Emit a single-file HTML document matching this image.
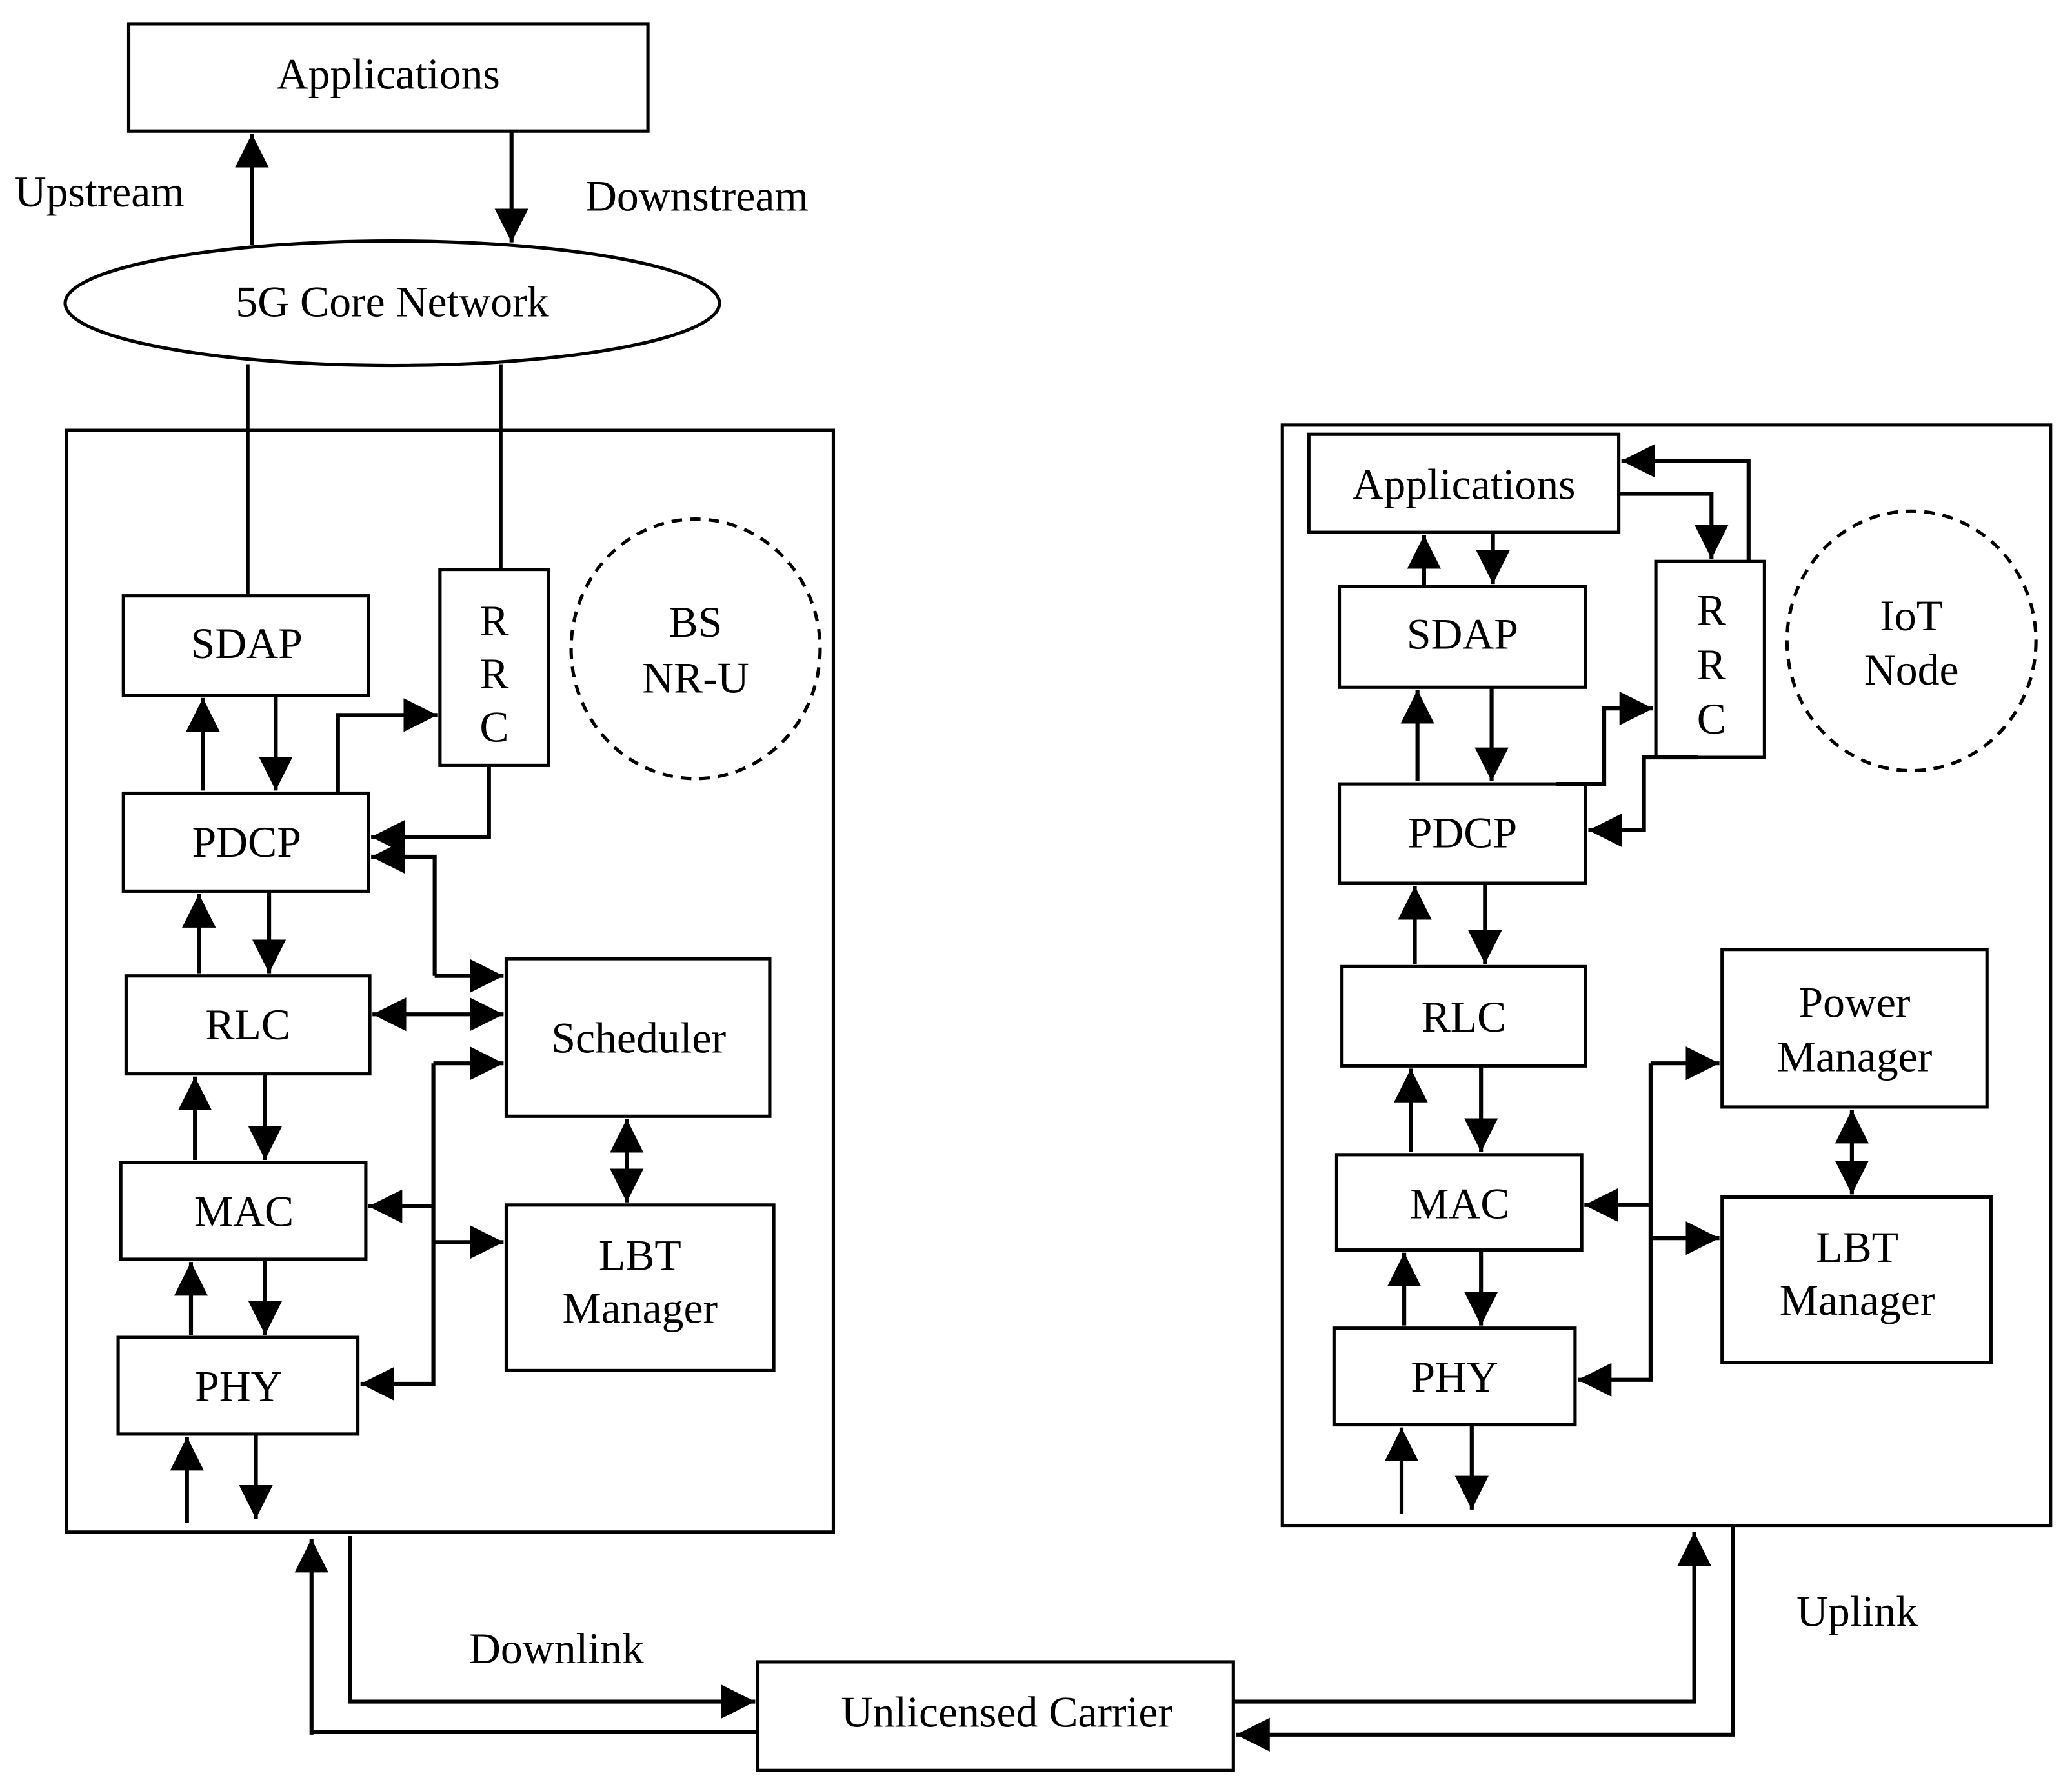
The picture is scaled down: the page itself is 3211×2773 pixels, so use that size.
<!DOCTYPE html>
<html><head><style>html,body{margin:0;padding:0;background:#fff}svg{display:block}</style></head>
<body>
<svg width="3211" height="2773" viewBox="0 0 1564 1351" xmlns="http://www.w3.org/2000/svg">
<defs>
<marker id="b" viewBox="0 0 10 10" refX="10" refY="5" markerWidth="8.5" markerHeight="8.5" orient="auto-start-reverse"><path d="M0,0 L10,5 L0,10 z" fill="#000"/></marker>
</defs>
<g fill="none" stroke="#000" stroke-width="2.5">
<rect x="97" y="18" width="392" height="81" fill="#fff"/>
<ellipse cx="296" cy="229" rx="247" ry="47"/>
<rect x="50" y="325" width="579" height="832"/>
<rect x="968" y="321" width="580" height="831"/>
<rect x="93" y="450" width="185" height="75"/>
<rect x="332" y="430" width="82" height="148"/>
<ellipse cx="525" cy="490" rx="94" ry="98" stroke-dasharray="8,6"/>
<rect x="93" y="599" width="185" height="74"/>
<rect x="95" y="737" width="184" height="74"/>
<rect x="91" y="878" width="185" height="73"/>
<rect x="89" y="1010" width="181" height="73"/>
<rect x="382" y="724" width="199" height="119"/>
<rect x="382" y="910" width="202" height="125"/>
<rect x="572" y="1255" width="359" height="82"/>
<rect x="988" y="328" width="234" height="74"/>
<rect x="1011" y="443" width="186" height="76"/>
<rect x="1250" y="424" width="82" height="148"/>
<ellipse cx="1443" cy="484" rx="94" ry="98" stroke-dasharray="8,6"/>
<rect x="1011" y="592" width="186" height="75"/>
<rect x="1013" y="730" width="184" height="75"/>
<rect x="1009" y="872" width="185" height="72"/>
<rect x="1007" y="1003" width="182" height="73"/>
<rect x="1300" y="717" width="200" height="119"/>
<rect x="1300" y="904" width="203" height="125"/>
</g>
<g fill="none" stroke="#000" stroke-width="3" marker-end="url(#b)">
<path d="M190 185 V101"/>
<path d="M386 99 V183"/>
<path d="M153 597 V527"/><path d="M208 525 V597"/>
<path d="M255 599 V540 H330"/>
<path d="M369 578 V632 H280"/>
<path d="M328 737 V647 H280"/>
<path d="M328 737 H380"/>
<path d="M281 766 H380" marker-start="url(#b)"/>
<path d="M473 845 V908" marker-start="url(#b)"/>
<path d="M327 803 H380"/>
<path d="M327 803 V1045 H272"/>
<path d="M327 911 H278"/>
<path d="M327 938 H380"/>
<path d="M150 735 V675"/><path d="M203 673 V735"/>
<path d="M147 876 V813"/><path d="M200 811 V876"/>
<path d="M144 1008 V953"/><path d="M200 951 V1008"/>
<path d="M141 1150 V1085"/><path d="M193 1083 V1147"/>
<path d="M235 1310 V1162"/>
<path d="M264 1160 V1285 H570"/>
<path d="M931 1285 H1279 V1157"/>
<path d="M1308 1153 V1310 H933"/>
<path d="M1075 443 V404"/><path d="M1127 402 V441"/>
<path d="M1222 373 H1292 V422"/>
<path d="M1320 424 V348 H1224"/>
<path d="M1070 590 V521"/><path d="M1126 519 V590"/>
<path d="M1175 592 H1211 V535 H1248"/>
<path d="M1282 572 H1241 V627 H1199"/>
<path d="M1068 728 V669"/><path d="M1121 667 V728"/>
<path d="M1065 870 V807"/><path d="M1118 805 V870"/>
<path d="M1060 1001 V946"/><path d="M1118 944 V1001"/>
<path d="M1058 1143 V1078"/><path d="M1111 1076 V1140"/>
<path d="M1398 838 V902" marker-start="url(#b)"/>
<path d="M1246 803 H1298"/>
<path d="M1246 803 V1042 H1191"/>
<path d="M1246 910 H1196"/>
<path d="M1246 935 H1298"/>
</g>
<path d="M235 1308 H572" stroke="#000" stroke-width="3" fill="none"/>
<path d="M187 275 V450 M378 275 V430" stroke="#000" stroke-width="2.5" fill="none"/>
<g font-family="'Liberation Serif',serif" font-size="33" fill="#000" text-anchor="middle" dominant-baseline="central">
<text x="293" y="56">Applications</text>
<text x="75" y="145">Upstream</text>
<text x="526" y="148">Downstream</text>
<text x="296" y="228">5G Core Network</text>
<text x="186" y="486">SDAP</text>
<text x="373" y="469">R</text><text x="373" y="509">R</text><text x="373" y="549">C</text>
<text x="525" y="470">BS</text><text x="525" y="512">NR-U</text>
<text x="186" y="636">PDCP</text>
<text x="187" y="774">RLC</text>
<text x="184" y="915">MAC</text>
<text x="180" y="1047">PHY</text>
<text x="482" y="784">Scheduler</text>
<text x="483" y="948">LBT</text><text x="483" y="988">Manager</text>
<text x="420" y="1245">Downlink</text>
<text x="760" y="1293">Unlicensed Carrier</text>
<text x="1402" y="1217">Uplink</text>
<text x="1105" y="366">Applications</text>
<text x="1104" y="479">SDAP</text>
<text x="1292" y="461">R</text><text x="1292" y="502">R</text><text x="1292" y="543">C</text>
<text x="1443" y="465">IoT</text><text x="1443" y="506">Node</text>
<text x="1104" y="629">PDCP</text>
<text x="1105" y="768">RLC</text>
<text x="1102" y="909">MAC</text>
<text x="1098" y="1040">PHY</text>
<text x="1400" y="757">Power</text><text x="1400" y="798">Manager</text>
<text x="1402" y="942">LBT</text><text x="1402" y="982">Manager</text>
</g>
</svg>
</body></html>
